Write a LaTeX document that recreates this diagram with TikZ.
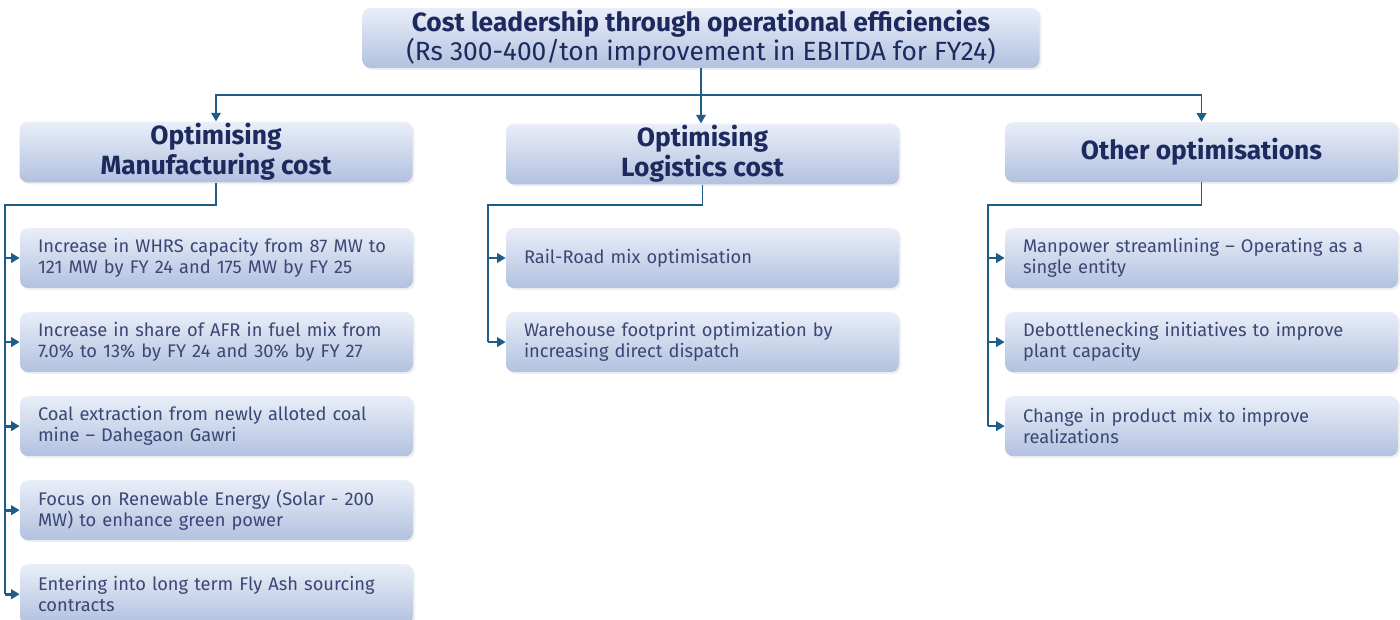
\documentclass[tikz,border=0pt]{standalone}
\usepackage{fontspec}
\setmainfont{Fira Sans}
\usetikzlibrary{arrows.meta,positioning,shadows}
\definecolor{CostLine}{HTML}{1F5C88}
\definecolor{CostText}{HTML}{1C2A5E}
\definecolor{ItemText}{HTML}{3A4775}
\definecolor{BoxTop}{HTML}{E9EEF8}
\definecolor{BoxBottom}{HTML}{B2C1E0}
\tikzset{>={Triangle[length=1.7mm,width=1.9mm]},box/.style={rounded corners=1.6mm,
 top color=BoxTop,bottom color=BoxBottom,draw=none,drop shadow={opacity=0.12,
 shadow xshift=0.4mm,shadow yshift=-0.4mm}},head/.style={box,minimum width=7.86cm,
 minimum height=1.2cm,inner ysep=1pt,align=center,font=\fontsize{15}{17}\selectfont\bfseries,
 text=CostText},item/.style={box,minimum width=7.86cm,minimum height=1.2cm,text width=7.14cm,
 inner xsep=0.36cm,align=left,font=\fontsize{10.4}{11.9}\selectfont,text=ItemText},
 link/.style={draw=CostLine,line width=1pt}}

\begin{document}
\begin{tikzpicture}[node distance=4.67mm]
\useasboundingbox (0,0) rectangle (28,-12.38);
\node[box,minimum width=13.54cm,minimum height=1.2cm,inner ysep=1pt,align=center,text=CostText,
 font=\fontsize{15}{16.5}\selectfont] (top) at (14.02,-0.76)
 {\textbf{Cost leadership through operational efficiencies}\\(Rs 300-400/ton improvement in EBITDA for FY24)};
\node[head] (manu) at (4.32,-3.04) {Optimising\\Manufacturing cost};
\node[head] (logi) at (14.05,-3.08) {Optimising\\Logistics cost};
\node[head] (othr) at (24.03,-3.04) {Other optimisations};

\node[item] (m1) at (4.33,-5.16) {Increase in WHRS capacity from 87 MW to\\121 MW by FY 24 and 175 MW by FY 25};
\node[item,below=of m1] (m2) {Increase in share of AFR in fuel mix from\\7.0\% to 13\% by FY 24 and 30\% by FY 27};
\node[item,below=of m2] (m3) {Coal extraction from newly alloted coal\\mine -- Dahegaon Gawri};
\node[item,below=of m3] (m4) {Focus on Renewable Energy (Solar - 200\\MW) to enhance green power};
\node[item,below=of m4] (m5) {Entering into long term Fly Ash sourcing\\contracts};

\node[item] (l1) at (14.05,-5.16) {Rail-Road mix optimisation};
\node[item,below=of l1] (l2) {Warehouse footprint optimization by\\increasing direct dispatch};

\node[item] (o1) at (24.03,-5.16) {Manpower streamlining -- Operating as a\\single entity};
\node[item,below=of o1] (o2) {Debottlenecking initiatives to improve\\plant capacity};
\node[item,below=of o2] (o3) {Change in product mix to improve\\realizations};

\coordinate (bus) at (14.02,-1.9);
\draw[link,->] (top.south) -- (top.south |- logi.north);
\draw[link,->] (bus) -| (manu.north);
\draw[link,->] (bus) -| (othr.north);

\coordinate (mbus) at (0.1,-4.1);
\draw[link,line width=1.6pt] (manu.south) |- (mbus) -- (mbus |- m5.west);
\foreach \i in {1,...,5} \draw[link,line width=1.6pt,->] (mbus |- m\i.west) -- (m\i.west);

\coordinate (lbus) at (9.76,-4.1);
\draw[link] (logi.south) |- (lbus) -- (lbus |- l2.west);
\foreach \i in {1,2} \draw[link,->] (lbus |- l\i.west) -- (l\i.west);

\coordinate (obus) at (19.76,-4.1);
\draw[link] (othr.south) |- (obus) -- (obus |- o3.west);
\foreach \i in {1,2,3} \draw[link,->] (obus |- o\i.west) -- (o\i.west);
\end{tikzpicture}
\end{document}
